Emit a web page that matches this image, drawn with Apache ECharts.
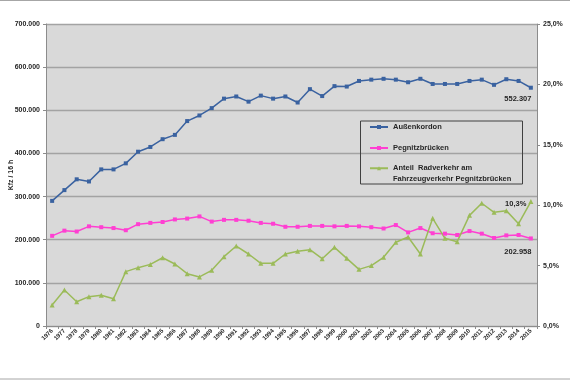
<!DOCTYPE html>
<html>
<head>
<meta charset="utf-8">
<script src="https://cdn.jsdelivr.net/npm/echarts@6/dist/echarts.min.js"></script>
<style>
html,body{margin:0;padding:0;background:#fff;}
#chart{width:570px;height:380px;}
</style>
</head>
<body>
<div id="chart"></div>
<script>
const years = ['1976','1977','1978','1979','1980','1981','1982','1983','1984','1985','1986','1987','1988','1989','1990','1991','1992','1993','1994','1995','1996','1997','1998','1999','2000','2001','2002','2003','2004','2005','2006','2007','2008','2009','2010','2011','2012','2013','2014','2015'];
const aussenkordon = [290000,315000,340000,335000,363000,363000,377000,404000,415000,433000,443000,475000,488000,
  505000,527000,532000,520000,534000,527000,532000,518000,549000,533000,556000,555000,568000,
  571000,573000,571000,565000,573000,561000,561000,561000,568000,571000,559000,572000,568000,552307];
const pegnitzbruecken = [209000,221000,219000,231000,229000,227000,222000,236000,239000,241000,247000,249000,254000,
  242000,246000,246000,244000,239000,237000,230000,230000,232000,232000,231000,232000,231000,
  229000,226000,234000,217000,227000,215000,214000,211000,220000,214000,204000,210000,211000,202958];
const anteilRad = [1.74,2.98,2.01,2.43,2.54,2.26,4.50,4.83,5.10,5.65,5.13,4.33,4.06,
  4.61,5.74,6.62,5.96,5.19,5.19,5.96,6.18,6.32,5.57,6.51,5.60,4.69,
  5.0,5.69,6.93,7.37,5.96,8.91,7.26,6.98,9.16,10.16,9.41,9.55,8.47,10.3];
const leftTicks = {min:0, max:700000, interval:100000};
const rightTicks = {min:0, max:25, interval:5};
const names = ['Außenkordon','Pegnitzbrücken','Anteil  Radverkehr am Fahrzeugverkehr Pegnitzbrücken'];

const fmtDE = v => String(Math.round(v)).replace(/\B(?=(\d{3})+(?!\d))/g, '.');
const fmtPct = v => v.toFixed(1).replace('.', ',') + '%';
const FONT = 'Liberation Sans';
const TXT = '#262626';
const last = years.length - 1;

function withLastLabel(arr, labelOpt) {
  return arr.map((v, i) => i === last ? {value: v, label: Object.assign({show: true, fontFamily: FONT, fontWeight: 'bold', fontSize: 7.5, color: TXT}, labelOpt)} : v);
}
const richTxt = {fontFamily: FONT, fontWeight: 'bold', fontSize: 7.5, color: TXT, lineHeight: 10.5};

const chart = echarts.init(document.getElementById('chart'), null, {renderer: 'canvas'});
chart.setOption({
  animation: false,
  backgroundColor: '#ffffff',
  textStyle: {fontFamily: FONT},
  grid: {left: 46, right: 33, top: 24, bottom: 54, show: true, backgroundColor: '#D9D9D9', borderWidth: 0, containLabel: false, outerBoundsMode: 'none'},
  legend: [{
    left: 369, top: 122, orient: 'vertical', padding: 0,
    itemWidth: 18, itemHeight: 5, itemGap: 11,
    data: [names[0], names[1]],
    textStyle: {fontFamily: FONT, fontWeight: 'bold', fontSize: 7.5, color: TXT, lineHeight: 10}
  }, {
    left: 369, top: 152.5, orient: 'vertical', padding: 0,
    itemWidth: 18, itemHeight: 5,
    data: [names[2]],
    formatter: () => '{e| }\n{a|Anteil  Radverkehr am}\n{a|Fahrzeugverkehr Pegnitzbrücken}',
    textStyle: {fontFamily: FONT, fontWeight: 'bold', fontSize: 7.5, color: TXT, lineHeight: 10.5,
      rich: {e: richTxt, a: richTxt}}
  }],
  graphic: [
    {type: 'rect', shape: {x: -3, y: 0.5, width: 576, height: 378.5}, style: {fill: 'none', stroke: '#A6A6A6', lineWidth: 1}, silent: true, z: 100},
    {type: 'rect', shape: {x: 360.5, y: 121, width: 162, height: 63}, style: {fill: 'none', stroke: '#404040', lineWidth: 1}, silent: true, z: 100}
  ],
  xAxis: {
    type: 'category', data: years, boundaryGap: true,
    axisLine: {show: true, lineStyle: {color: '#8C8C8C', width: 1}},
    axisTick: {show: true, length: 3, lineStyle: {color: '#8C8C8C'}},
    axisLabel: {rotate: 45, interval: 0, fontSize: 6, fontWeight: 'bold', color: TXT, margin: 4, fontFamily: FONT}
  },
  yAxis: [{
    type: 'value', position: 'left', min: leftTicks.min, max: leftTicks.max, interval: leftTicks.interval,
    name: 'Kfz / 16 h', nameLocation: 'middle', nameRotate: 90, nameGap: 31, nameMoveOverlap: false,
    nameTextStyle: {fontSize: 7, fontWeight: 'bold', color: TXT, fontFamily: FONT},
    axisLine: {show: true, lineStyle: {color: '#8C8C8C', width: 1}},
    axisTick: {show: true, length: 3, lineStyle: {color: '#8C8C8C'}},
    axisLabel: {formatter: fmtDE, fontSize: 7, fontWeight: 'bold', color: TXT, margin: 6, fontFamily: FONT},
    splitLine: {show: true, lineStyle: {color: '#A3A3A3', width: 1.3}}
  }, {
    type: 'value', position: 'right', min: rightTicks.min, max: rightTicks.max, interval: rightTicks.interval,
    axisLine: {show: true, lineStyle: {color: '#8C8C8C', width: 1}},
    axisTick: {show: true, length: 3, lineStyle: {color: '#8C8C8C'}},
    axisLabel: {formatter: fmtPct, fontSize: 7, fontWeight: 'bold', color: TXT, margin: 6, fontFamily: FONT},
    splitLine: {show: false}
  }],
  series: [{
    name: names[0], type: 'line', yAxisIndex: 0,
    data: withLastLabel(aussenkordon, {position: 'bottom', distance: 5, offset: [-13, 0], formatter: p => fmtDE(p.value)}),
    symbol: 'rect', symbolSize: 4,
    lineStyle: {color: '#3A62A0', width: 1.5},
    itemStyle: {color: '#3A62A0'}
  }, {
    name: names[1], type: 'line', yAxisIndex: 0,
    data: withLastLabel(pegnitzbruecken, {position: 'bottom', distance: 7, offset: [-13, 0], formatter: p => fmtDE(p.value)}),
    symbol: 'rect', symbolSize: 4,
    lineStyle: {color: '#FF3FD2', width: 1.5},
    itemStyle: {color: '#FF3FD2'}
  }, {
    name: names[2], type: 'line', yAxisIndex: 1,
    data: withLastLabel(anteilRad, {position: 'left', distance: 3, offset: [1, 2], formatter: p => fmtPct(p.value)}),
    symbol: 'triangle', symbolSize: 5,
    lineStyle: {color: '#9BBB59', width: 1.5},
    itemStyle: {color: '#9BBB59'}
  }]
});
</script>
</body>
</html>
